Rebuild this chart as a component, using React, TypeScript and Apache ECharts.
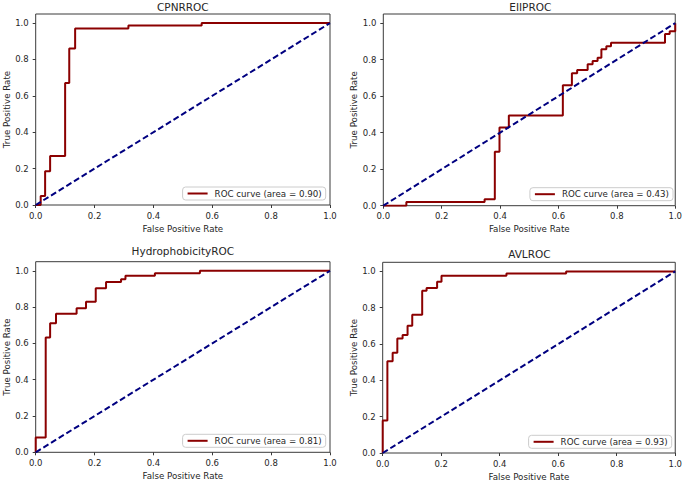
import React, { useEffect, useRef } from "react";
import * as echarts from "echarts";

const panelTitles = ["CPNRROC", "EIIPROC", "HydrophobicityROC", "AVLROC"];
const aucLabels = ["0.90", "0.43", "0.81", "0.93"];

const cpnrFpr = [0, 0.017, 0.017, 0.032, 0.032, 0.049, 0.049, 0.1, 0.1, 0.114, 0.114, 0.134, 0.134, 0.315, 0.315, 0.564, 0.564, 1.0];
const cpnrTpr = [0, 0, 0.05, 0.05, 0.185, 0.185, 0.27, 0.27, 0.67, 0.67, 0.86, 0.86, 0.97, 0.97, 0.987, 0.987, 1.0, 1.0];

const eiipFpr = [0, 0.079, 0.079, 0.347, 0.347, 0.382, 0.382, 0.398, 0.398, 0.43, 0.43, 0.615, 0.615, 0.646, 0.646, 0.664, 0.664, 0.7, 0.7, 0.717, 0.717, 0.734, 0.734, 0.747, 0.747, 0.764, 0.764, 0.78, 0.78, 0.965, 0.965, 0.981, 0.981, 1.0, 1.0];
const eiipTpr = [0, 0, 0.02, 0.02, 0.036, 0.036, 0.295, 0.295, 0.429, 0.429, 0.494, 0.494, 0.66, 0.66, 0.726, 0.726, 0.743, 0.743, 0.775, 0.775, 0.793, 0.793, 0.81, 0.81, 0.857, 0.857, 0.874, 0.874, 0.893, 0.893, 0.94, 0.94, 0.956, 0.956, 1.0];

const hydroFpr = [0, 0, 0.034, 0.034, 0.049, 0.049, 0.069, 0.069, 0.139, 0.139, 0.171, 0.171, 0.204, 0.204, 0.239, 0.239, 0.29, 0.29, 0.305, 0.305, 0.405, 0.405, 0.558, 0.558, 1.0];
const hydroTpr = [0, 0.081, 0.081, 0.632, 0.632, 0.711, 0.711, 0.763, 0.763, 0.794, 0.794, 0.829, 0.829, 0.904, 0.904, 0.938, 0.938, 0.954, 0.954, 0.972, 0.972, 0.987, 0.987, 1.0, 1.0];

const avlFpr = [0, 0, 0.016, 0.016, 0.034, 0.034, 0.05, 0.05, 0.068, 0.068, 0.085, 0.085, 0.101, 0.101, 0.135, 0.135, 0.15, 0.15, 0.186, 0.186, 0.201, 0.201, 0.423, 0.423, 0.627, 0.627, 1.0];
const avlTpr = [0, 0.179, 0.179, 0.505, 0.505, 0.552, 0.552, 0.63, 0.63, 0.65, 0.65, 0.7, 0.7, 0.761, 0.761, 0.893, 0.893, 0.908, 0.908, 0.943, 0.943, 0.976, 0.976, 0.989, 0.989, 1.0, 1.0];

const chanceX = [0, 1];
const chanceY = [0, 1];
const tickValues = [0, 0.2, 0.4, 0.6, 0.8, 1.0];

const fprs = [cpnrFpr, eiipFpr, hydroFpr, avlFpr];
const tprs = [cpnrTpr, eiipTpr, hydroTpr, avlTpr];

// layout (pixels)
const W = 685;
const H = 482;
const boxes = [
  { left: 35.7, top: 14, width: 294.3, height: 191 },
  { left: 383.3, top: 14, width: 294, height: 191.7 },
  { left: 35.7, top: 261.7, width: 294.3, height: 190.6 },
  { left: 382.7, top: 262.3, width: 293.3, height: 191 },
];
const titleY = [7, 7, 250.5, 253.5];

const FONT = "DejaVu Sans";
const TXT = "#262626";

export default function App() {
  const ref = useRef<HTMLDivElement>(null);
  useEffect(() => {
    if (!ref.current) return;
    const chart = echarts.init(ref.current, undefined, { renderer: "svg" });

    const grid: any[] = [];
    const xAxis: any[] = [];
    const yAxis: any[] = [];
    const series: any[] = [];
    const legend: any[] = [];
    const graphic: any[] = [];

    boxes.forEach((b, i) => {
      grid.push({
        left: b.left,
        top: b.top,
        width: b.width,
        height: b.height,
        show: true,
        borderColor: "#3a3a3a",
        borderWidth: 1,
        backgroundColor: "transparent",
        containLabel: false,
      });
      xAxis.push({
        type: "value",
        gridIndex: i,
        min: 0,
        max: 1,
        interval: 0.2,
        name: "False Positive Rate",
        nameLocation: "middle",
        nameGap: 19,
        nameTextStyle: { fontFamily: FONT, fontSize: 8.7, color: TXT },
        axisLine: { show: false },
        axisTick: { show: true, length: 3, lineStyle: { color: "#3a3a3a" } },
        axisLabel: {
          fontFamily: FONT,
          fontSize: 8.5,
          color: TXT,
          margin: 6,
          formatter: (v: number) => v.toFixed(1),
        },
        splitLine: { show: false },
      });
      yAxis.push({
        type: "value",
        gridIndex: i,
        min: 0,
        max: 1.05,
        name: "True Positive Rate",
        nameLocation: "middle",
        nameGap: 24,
        nameTextStyle: { fontFamily: FONT, fontSize: 8.7, color: TXT },
        axisLine: { show: false },
        axisTick: { show: true, length: 3, customValues: tickValues, lineStyle: { color: "#3a3a3a" } },
        axisLabel: {
          fontFamily: FONT,
          fontSize: 8.5,
          color: TXT,
          margin: 7,
          customValues: tickValues,
          formatter: (v: number) => v.toFixed(1),
        },
        splitLine: { show: false },
      });
      const rocName = `ROC curve (area = ${aucLabels[i]})`;
      series.push({
        type: "line",
        name: rocName,
        xAxisIndex: i,
        yAxisIndex: i,
        data: fprs[i].map((x, k) => [x, tprs[i][k]]),
        symbol: "none",
        lineStyle: { color: "#8b0000", width: 2 },
        itemStyle: { color: "#8b0000" },
        clip: true,
        silent: true,
      });
      series.push({
        type: "line",
        name: `chance${i}`,
        xAxisIndex: i,
        yAxisIndex: i,
        data: chanceX.map((x, k) => [x, chanceY[k]]),
        symbol: "none",
        lineStyle: { color: "#000080", width: 2, type: [6, 3] },
        clip: true,
        silent: true,
      });
      legend.push({
        data: [rocName],
        right: W - (b.left + b.width - 4.3),
        bottom: H - (b.top + b.height - 5),
        orient: "vertical",
        icon: "rect",
        itemWidth: 20,
        itemHeight: 2,
        padding: [2, 4, 2, 5],
        backgroundColor: "rgba(255,255,255,0.85)",
        borderColor: "#cccccc",
        borderWidth: 1,
        borderRadius: 3,
        selectedMode: false,
        textStyle: { fontFamily: FONT, fontSize: 8.7, color: TXT, padding: [0, 0, 0, 2] },
      });
      graphic.push({
        type: "text",
        x: b.left + b.width / 2,
        y: titleY[i],
        style: {
          text: panelTitles[i],
          fontFamily: FONT,
          fontSize: 10.5,
          fill: TXT,
          align: "center",
          verticalAlign: "middle",
        },
      });
    });

    chart.setOption({
      animation: false,
      backgroundColor: "#ffffff",
      grid,
      xAxis,
      yAxis,
      series,
      legend,
      graphic,
    });
    return () => chart.dispose();
  }, []);
  return (
    <div
      ref={ref}
      style={{ position: "fixed", left: 0, top: 0, width: W, height: H }}
    />
  );
}
